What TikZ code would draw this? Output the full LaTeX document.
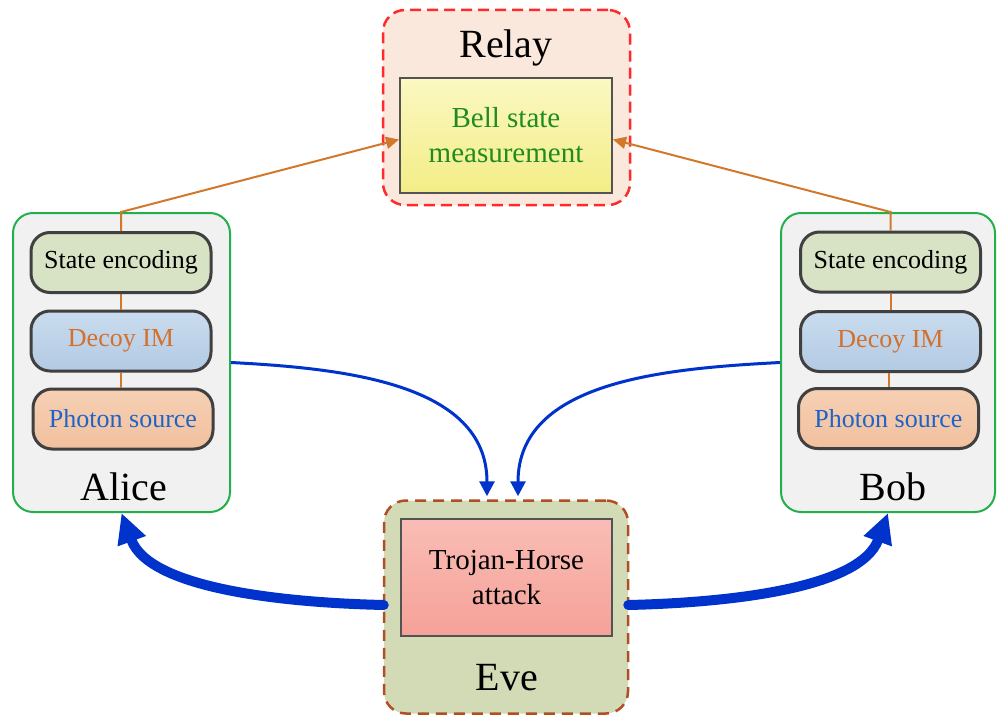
\documentclass[tikz,border=0pt]{standalone}
\usepackage{fontspec}
\setmainfont{Liberation Serif}
\usetikzlibrary{arrows.meta}
\definecolor{relayfill}{HTML}{FAE8DC}
\definecolor{relayline}{HTML}{FF2A2A}
\definecolor{evefill}{HTML}{D3DBB6}
\definecolor{eveline}{HTML}{B04E24}
\definecolor{partyfill}{HTML}{F1F1F1}
\definecolor{partyline}{HTML}{22B04C}
\definecolor{boxline}{HTML}{404040}
\definecolor{linkorange}{HTML}{D2782A}
\definecolor{beamblue}{HTML}{0033CC}
\definecolor{bsmtext}{HTML}{1E8C1E}
\definecolor{decoytext}{HTML}{D2702E}
\definecolor{sourcetext}{HTML}{1E64C8}
\definecolor{encfill}{HTML}{D8E3C6}
\definecolor{decoytop}{HTML}{CADCEE}
\definecolor{decoybot}{HTML}{B2CAE3}
\definecolor{srctop}{HTML}{F6D0B4}
\definecolor{srcbot}{HTML}{F1C09E}
\definecolor{bsmtop}{HTML}{FBF8C2}
\definecolor{bsmbot}{HTML}{F3ED86}
\definecolor{thtop}{HTML}{F9BDB5}
\definecolor{thbot}{HTML}{F5A198}
\tikzset{
  party/.style={draw=partyline, line width=2pt, fill=partyfill, rounded corners=20pt, inner sep=0pt},
  module/.style={draw=boxline, line width=3pt, rounded corners=19pt, minimum width=180pt, minimum height=60pt, inner sep=0pt, font=\fontsize{26}{31}\selectfont},
  encbox/.style={module, fill=encfill},
  decoybox/.style={module, top color=decoytop, bottom color=decoybot, text=decoytext},
  srcbox/.style={module, top color=srctop, bottom color=srcbot, text=sourcetext},
  bigname/.style={font=\fontsize{40}{48}\selectfont, inner sep=0pt},
  innerrect/.style={draw=boxline!90, line width=2pt, inner sep=0pt, align=center, font=\fontsize{29}{35}\selectfont},
  orangelink/.style={draw=linkorange, line width=2pt},
  orangearrow/.style={orangelink, -{Triangle[length=13pt, width=12pt]}},
  thinbeam/.style={draw=beamblue, line width=3pt, -{Triangle[length=15pt, width=15pt]}},
  thickbeam/.style={draw=beamblue, line width=10pt, line cap=round, -{Triangle[length=30pt, width=28pt]}},
}
\begin{document}
\begin{tikzpicture}[x=1pt, y=-1pt]
\useasboundingbox (0,0) rectangle (997,717);
\fill[white] (0,0) rectangle (997,717);

% Relay station with the Bell state measurement
\node[draw=relayline, line width=2.5pt, dash pattern=on 11pt off 6pt, fill=relayfill,
      rounded corners=22pt, minimum width=247pt, minimum height=195pt, inner sep=0pt]
      (relay) at (506.5,107.5) {};
\node[bigname] (relaylabel) at (506,48) {Relay};
\node[innerrect, top color=bsmtop, bottom color=bsmbot, text=bsmtext,
      minimum width=212pt, minimum height=115pt] (bell) at (506,135.5) {Bell state\\measurement};

% Eve with the Trojan-horse module
\node[draw=eveline, line width=2.5pt, dash pattern=on 11pt off 7pt, fill=evefill,
      rounded corners=22pt, minimum width=244pt, minimum height=213pt, inner sep=0pt]
      (eve) at (506,607) {};
\node[innerrect, top color=thtop, bottom color=thbot, text=black,
      minimum width=211pt, minimum height=117pt] (trojan) at (506.5,577.5) {Trojan-Horse\\attack};
\node[bigname] (evelabel) at (507,678) {Eve};

% Alice
\node[party, minimum width=217pt, minimum height=299pt] (alice) at (121.5,362.5) {};
\node[encbox] (aliceSE) at (121,262.5) {State encoding};
\node[decoybox] (aliceDI) at (121,341) {Decoy IM};
\node[srcbox] (alicePS) at (123,419) {Photon source};
\node[bigname] (alicelabel) at (124,487) {Alice};

% Bob
\node[party, minimum width=214pt, minimum height=299pt] (bob) at (888,362.5) {};
\node[encbox] (bobSE) at (890.5,262) {State encoding};
\node[decoybox] (bobDI) at (890.5,341.5) {Decoy IM};
\node[srcbox] (bobPS) at (888.5,418.5) {Photon source};
\node[bigname] (boblabel) at (893,487) {Bob};

% optical links inside each party
\draw[orangelink] (aliceSE.south) -- (aliceDI.north);
\draw[orangelink] (aliceDI.south) -- (aliceDI.south |- alicePS.north);
\draw[orangelink] (bobSE.south) -- (bobDI.north);
\draw[orangelink] (bobPS.north) -- (bobPS.north |- bobDI.south);

% links to the relay
\draw[orangearrow] (aliceSE.north) -- (aliceSE.north |- alice.north) -- ([yshift=-4pt]bell.west);
\draw[orangearrow] (bobSE.north) -- (bobSE.north |- bob.north) -- ([yshift=-4pt]bell.east);

% back-reflected light reaching Eve
\draw[thinbeam] (alice.east) to[out=-3, in=90] ([xshift=-19pt, yshift=3pt]eve.north);
\draw[thinbeam] (bob.west) to[out=183, in=90] ([xshift=12pt, yshift=3pt]eve.north);

% Trojan-horse light injected into Alice and Bob
\draw[thickbeam] ([xshift=1pt, yshift=2pt]eve.west) .. controls +(-88,-2) and +(28.5,78) .. (alice.south);
\draw[thickbeam] ([xshift=-1pt, yshift=2pt]eve.east) .. controls +(88,-2) and +(-28.5,78) .. (bob.south);
\end{tikzpicture}
\end{document}
